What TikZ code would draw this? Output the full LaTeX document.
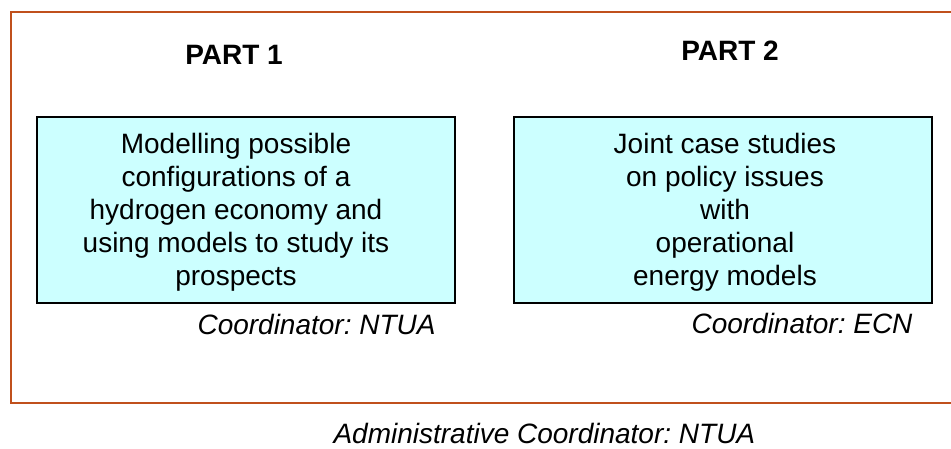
\documentclass[tikz,border=0pt]{standalone}
\usepackage{fontspec}
\setmainfont{Liberation Sans}
\frenchspacing
\definecolor{framebrown}{RGB}{192,80,28}
\definecolor{boxcyan}{RGB}{204,255,255}
\begin{document}
\begin{tikzpicture}[x=1pt,y=-1pt,
        partbox/.style={draw=black,line width=2pt,fill=boxcyan,minimum width=418pt,minimum height=186pt,inner sep=0pt},
        parttext/.style={align=center,anchor=base,font=\fontsize{28}{33}\selectfont},
        parttitle/.style={anchor=base,font=\fontsize{28}{33}\selectfont\bfseries},
        coordtext/.style={anchor=base west,font=\fontsize{28}{33}\selectfont\itshape}]
        \useasboundingbox (0,0) rectangle (951,448);
        % outer frame, open on the right
        \draw[framebrown,line width=2pt] (951,12) -- (10.5,12) -- (10.5,403) -- (951,403);
        \begin{scope}
            \node[parttitle] (title1) at (234,64) {PART 1};
            \node[partbox] (box1) at (246,210) {};
            \node[parttext] (text1) at (236,285) {Modelling possible\\configurations of a\\hydrogen economy and\\using models to study its\\prospects};
            \node[coordtext] (coord1) at (194,334) {Coordinator: NTUA};
        \end{scope}
        \begin{scope}[xshift=476pt]
            \node[parttitle] (title2) at (254,60) {PART 2};
            \node[partbox] (box2) at (246.5,210) {};
            \node[parttext] (text2) at (249,285) {Joint case studies\\on policy issues\\with\\operational\\energy models};
            \node[coordtext] (coord2) at (212,333) {Coordinator: ECN};
        \end{scope}
        \node[coordtext] (admin) at (330,443) {Administrative Coordinator: NTUA};
    \end{tikzpicture}
\end{document}
